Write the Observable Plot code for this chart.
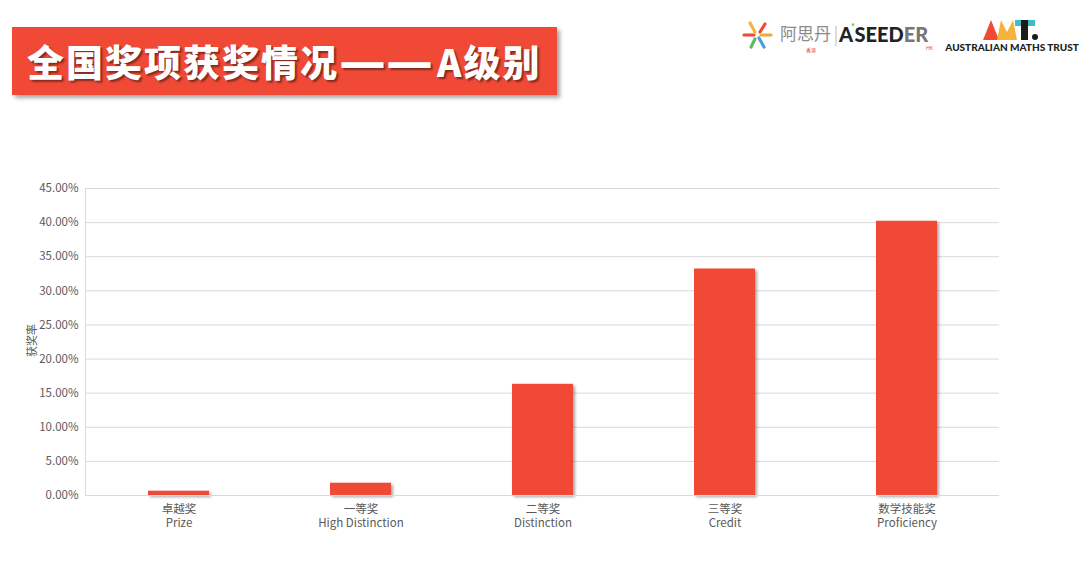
<!DOCTYPE html>
<html>
<head>
<meta charset="utf-8">
<script src="https://cdn.jsdelivr.net/npm/d3@7"></script>
<script src="https://cdn.jsdelivr.net/npm/@observablehq/plot@0.6"></script>
<style>
  html, body { margin: 0; padding: 0; background: #fff; width: 1080px; height: 588px; overflow: hidden; font-family: "Noto Sans CJK SC", "Noto Sans", sans-serif; }
  #title { position: absolute; left: 12px; top: 27px; width: 545px; height: 68px; background: #F04A36; box-shadow: 3px 3px 4px rgba(0,0,0,0.35); }
  #title span.t { position: absolute; left: 15px; top: 7px; font-size: 37px; font-weight: 900; color: #fff; letter-spacing: 2px; text-shadow: 2px 2px 2px rgba(0,0,0,0.45); line-height: 54px; white-space: nowrap; }
  #title span.d { font-family: "DejaVu Sans"; font-weight: bold; font-size: 47px; letter-spacing: 0; margin-left: 0; margin-right: 4px; position: relative; top: 1px; }
  #logo1 { position: absolute; left: 740px; top: 18px; height: 36px; }
  #logo2 { position: absolute; left: 945px; top: 16px; }
  #chart { position: absolute; left: 0; top: 170px; }
</style>
</head>
<body>
<div id="title"><span class="t">全国奖项获奖情况<span class="d">——</span>A级别</span></div>
<div id="logo1">
  <svg width="200" height="36">
    <g transform="translate(17,17)" stroke-width="3.2" stroke-linecap="round">
      <line x1="-3" y1="0" x2="-13" y2="0" stroke="#F04A36"/>
      <line x1="-2" y1="-3" x2="-7" y2="-12" stroke="#F6B33C"/>
      <line x1="3" y1="-3" x2="8" y2="-11" stroke="#F04A36"/>
      <line x1="4" y1="0" x2="14" y2="0" stroke="#F7A533"/>
      <line x1="2" y1="3" x2="7" y2="12" stroke="#4B9FD8"/>
      <line x1="-2" y1="4" x2="-6" y2="12" stroke="#5DBB63"/>
    </g>
    <text x="40" y="22" font-size="17" fill="#8a8a8a" font-family="Noto Sans CJK SC">阿思丹</text>
    <text x="66" y="34" font-size="5" fill="#F04A36" font-family="Noto Sans CJK SC">香港</text>
    <line x1="96" y1="8" x2="96" y2="28" stroke="#bbb" stroke-width="1"/>
    <text x="99" y="24" font-size="20" font-weight="900" fill="#222" font-family="Lato" letter-spacing="0"><tspan>A</tspan><tspan dx="1.5">SEED</tspan><tspan fill="#777">ER</tspan></text>
    <text x="111" y="12" font-size="9" font-weight="900" fill="#5DBB63" font-family="Lato">*</text>
    <text x="186" y="32" font-size="5" fill="#F04A36" font-family="Lato">HK</text>
  </svg>
</div>
<div id="logo2">
  <svg width="135" height="38">
    <polygon points="38,24 46,4 54,24" fill="#F04A36"/>
    <polygon points="52,24 56,4 62,16 68,4 72,24" fill="#F6B33C"/>
    <rect x="70" y="4" width="20" height="6" fill="#3BBFC4"/>
    <rect x="76" y="4" width="7" height="20" fill="#1b1b1b"/>
    <circle cx="90" cy="21" r="3" fill="#1b1b1b"/>
    <text x="67" y="35" text-anchor="middle" font-size="10" font-weight="900" fill="#222" font-family="Lato">AUSTRALIAN MATHS TRUST</text>
  </svg>
</div>
<div id="chart"></div>
<script>
const categories = ["卓越奖\nPrize", "一等奖\nHigh Distinction", "二等奖\nDistinction", "三等奖\nCredit", "数学技能奖\nProficiency"];
const rates = [0.0063, 0.018, 0.163, 0.332, 0.402];
const yTicks = [0, 0.05, 0.10, 0.15, 0.20, 0.25, 0.30, 0.35, 0.40, 0.45];

const data = categories.map((c, i) => ({category: c, rate: rates[i]}));

const chart = Plot.plot({
  width: 1080,
  height: 380,
  marginTop: 18,
  marginLeft: 85,
  marginRight: 81,
  marginBottom: 55,
  style: {fontFamily: '"Noto Sans CJK SC", "Noto Sans", sans-serif', fontSize: "11px", color: "#595959", background: "transparent"},
  x: {domain: categories, paddingInner: 0.667, paddingOuter: 0.3335, label: null},
  y: {domain: [0, 0.45], label: null},
  marks: [
    Plot.gridY(yTicks, {stroke: "#d9d9d9", strokeOpacity: 1}),
    Plot.frame({anchor: "left", stroke: "#d9d9d9"}),
    Plot.barY(data, {x: "category", y: "rate", fill: "#F04A36"}),
    Plot.ruleY([0], {stroke: "#d9d9d9"}),
    Plot.axisX({tickSize: 0, tickPadding: 7, fontSize: 11.5, lineHeight: 1.25, fill: "#595959"}),
    Plot.axisY({ticks: yTicks, tickFormat: d3.format(".2%"), tickSize: 0, tickPadding: 7, fontSize: 11.5, fill: "#595959"}),
    Plot.text(["获奖率"], {frameAnchor: "left", dx: -53, dy: 15, rotate: -90, fontSize: 11, fill: "#595959"})
  ]
});
d3.select(chart).selectAll('g[aria-label="bar"]').style("filter", "drop-shadow(2px 2px 1.5px rgba(0,0,0,0.35))");
document.getElementById("chart").appendChild(chart);
</script>
</body>
</html>
